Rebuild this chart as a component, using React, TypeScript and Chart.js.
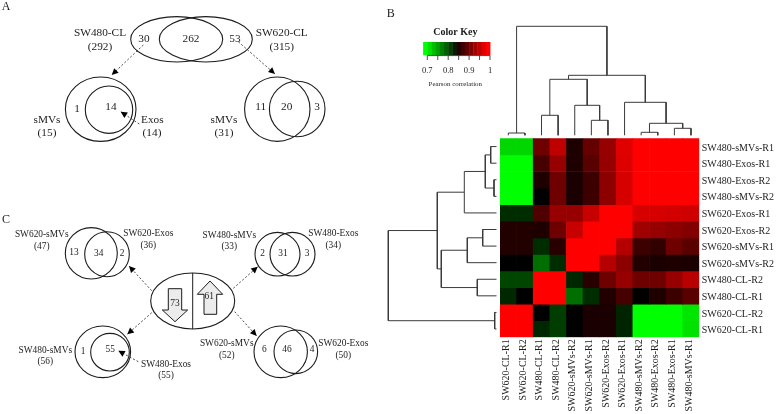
import React, { useEffect, useRef } from "react";
import { Chart, registerables } from "chart.js";

Chart.register(...registerables);

// ---------- data ----------
const columnLabels = ["SW620-CL-R1","SW620-CL-R2","SW480-CL-R1","SW480-CL-R2","SW620-sMVs-R2","SW620-sMVs-R1","SW620-Exos-R2","SW620-Exos-R1","SW480-sMVs-R2","SW480-Exos-R2","SW480-Exos-R1","SW480-sMVs-R1"];
const rowLabels = ["SW480-sMVs-R1","SW480-Exos-R1","SW480-Exos-R2","SW480-sMVs-R2","SW620-Exos-R1","SW620-Exos-R2","SW620-sMVs-R1","SW620-sMVs-R2","SW480-CL-R2","SW480-CL-R1","SW620-CL-R2","SW620-CL-R1"];
const row01 = [.705,.705,.909,.959,.859,.903,.934,.981,1,1,1,1];
const row02 = [.68,.68,.884,.934,.859,.896,.934,.978,1,1,1,1];
const row03 = [.68,.68,.859,.909,.856,.878,.928,.975,1,1,1,1];
const row04 = [.68,.68,.84,.909,.856,.878,.928,.975,1,1,1,1];
const row05 = [.812,.812,.89,.934,.934,.965,1,1,.975,.975,.972,.969];
const row06 = [.862,.862,.859,.909,.965,1,1,1,.94,.934,.928,.922];
const row07 = [.862,.862,.812,.865,1,1,1,.953,.878,.871,.909,.896];
const row08 = [.84,.84,.771,.812,1,1,.953,.928,.862,.856,.859,.856];
const row09 = [.796,.796,1,1,.815,.865,.909,.934,.909,.909,.934,.956];
const row10 = [.815,.84,1,1,.771,.812,.862,.884,.84,.859,.878,.896];
const row11 = [1,1,.84,.802,.84,.856,.856,.818,.68,.68,.68,.696];
const row12 = [1,1,.815,.802,.84,.856,.856,.818,.68,.68,.68,.699];
const matrix = [row01,row02,row03,row04,row05,row06,row07,row08,row09,row10,row11,row12];

// Dendrogram merges: [child, child, height]. child >= 0 is a leaf, child < 0 is merge ~child.
const topMerges: number[][] = [[0,1,5.3],[2,3,23],[5,6,18],[4,~2,33],[~1,~3,59],[8,9,6],[10,11,10],[~5,~6,15],[7,~7,36],[~4,~8,63],[~0,~9,112]];
const leftMerges: number[][] = [[0,1,9.3],[2,3,6],[~0,~1,14.7],[4,~2,35.7],[5,6,17.3],[~4,7,32.7],[8,9,22.7],[~5,~6,58.7],[~3,~7,62.7],[10,11,5.3],[~8,~9,111.7]];

const keyTicks = [0.7,0.75,0.8,0.85,0.9,0.95,1];
const keyTickLabels = ["0.7","0.8","0.9","1"];
const KEY_MIN = 0.68, KEY_MAX = 1, KEY_MID = 0.84, KEY_BINS = 16;

// ---------- layout ----------
const HEAT = { l: 500, r: 699.3, t: 138.3, b: 337.3 };
const SERIF = '"Liberation Serif", serif';
const INK = "#1c1c1c";

type E = [number, number, number, number];
const ellipses: E[] = [
  [176.7,39.3,46,22.7],[205.8,39.3,46.5,22.7],
  [100.7,109.2,35.3,32.2],[109,109.7,23.7,23.7],
  [277.3,109.2,32.7,32.2],[297.2,109,27.8,27.7],
  [91.3,253.3,26,25.7],[107,254.2,22.3,22.5],
  [277.5,254.2,22.5,21.8],[292.5,254.2,22.5,21.8],
  [192.7,301,42,28],
  [102.8,351.8,27.8,25.8],[110,352.2,19.3,18.8],
  [280.7,351.8,26.7,25.8],[295.8,351.8,21.8,21.8],
];
const arrows: number[][] = [
  [143.3,45,111.7,75],[238.3,41.7,275,74],[139.3,124,120.7,111.7],
  [151.7,290.7,129,266],[233.3,288.3,257.7,266.7],[151.7,312.7,127.3,334.3],[234.7,311.7,256.7,336],[138.3,361.7,118.3,350.7],
];
const blockArrows: number[][][] = [
  [[168.3,288.7],[181.7,288.7],[181.7,310],[187.7,310],[175,321.7],[162.3,310],[168.3,310]],
  [[210,281],[222.7,294.3],[216.7,294.3],[216.7,314.3],[204,314.3],[204,294.3],[197.3,294.3]],
];
type T = [string, number, number];
const panelLetters: T[] = [["A",6,7],["B",390.7,14],["C",6,220]];
const panelAText: T[] = [
  ["SW480-CL",100,33],["(292)",100,46.7],["SW620-CL",281.7,33],["(315)",281.7,46.7],
  ["30",144,39],["262",191,39],["53",235,39],
  ["1",77,109],["14",111,107],["Exos",152.3,119.7],["(14)",152,132.7],["sMVs",47,120],["(15)",47,132.7],
  ["11",260.7,107],["20",286.7,107],["3",317,107],["sMVs",224,120],["(31)",224,132.7],
];
const panelCText: T[] = [
  ["SW620-sMVs",41.7,235],["(47)",41.7,246.3],["SW620-Exos",148.3,234],["(36)",148.3,245.3],
  ["13",74,252.7],["34",98.7,253.7],["2",122,253.7],
  ["SW480-sMVs",229.3,235.3],["(33)",229.3,246.3],["SW480-Exos",333.3,234],["(34)",333.3,245.3],
  ["2",262.7,254],["31",283,254],["3",307,254],
  ["SW480-sMVs",45.3,350.7],["(56)",45.3,362],["1",83,351.3],["55",110.3,349.7],
  ["SW480-Exos",166,365],["(55)",166,376],
  ["SW620-sMVs",226.7,344],["(52)",226.7,355.7],["SW620-Exos",343.3,344],["(50)",343.3,355.7],
  ["6",264.3,350],["46",287,350],["4",312,350],
  ["73",175,304],["61",209.3,297],
];

function heatColor(v: number) {
  if (v <= KEY_MID) {
    const g = Math.round(((KEY_MID - v) / (KEY_MID - KEY_MIN)) * 255);
    return `rgb(0,${Math.min(255, g)},0)`;
  }
  const r = Math.round(((v - KEY_MID) / (KEY_MAX - KEY_MID)) * 255);
  return `rgb(${Math.min(255, r)},0,0)`;
}

function dendroSegments(merges: number[][], leafPos: (i: number) => number, base: number) {
  const centers: number[] = [];
  const pos = (c: number) => (c >= 0 ? leafPos(c) : centers[~c]);
  const hgt = (c: number) => (c >= 0 ? base : merges[~c][2]);
  return merges.map((m, i) => {
    const a = pos(m[0]), b = pos(m[1]);
    centers[i] = (a + b) / 2;
    return [[a, hgt(m[0])], [a, m[2]], [b, m[2]], [b, hgt(m[1])]];
  });
}

const annotationPlugin = {
  id: "figureAnnotations",
  afterDatasetsDraw(chart: any) {
    const ctx: CanvasRenderingContext2D = chart.ctx;
    const X = (v: number) => chart.scales.x.getPixelForValue(v);
    const Y = (v: number) => chart.scales.y.getPixelForValue(v);
    ctx.save();
    ctx.strokeStyle = INK;
    ctx.fillStyle = INK;

    // block arrows
    blockArrows.forEach((poly) => {
      ctx.beginPath();
      poly.forEach((p, i) => (i ? ctx.lineTo(X(p[0]), Y(p[1])) : ctx.moveTo(X(p[0]), Y(p[1]))));
      ctx.closePath();
      ctx.fillStyle = "#ececec";
      ctx.fill();
      ctx.lineWidth = 1;
      ctx.stroke();
    });

    // venn outlines
    ctx.lineWidth = 1.1;
    ellipses.forEach((e) => {
      ctx.beginPath();
      ctx.ellipse(X(e[0]), Y(e[1]), e[2], e[3], 0, 0, Math.PI * 2);
      ctx.stroke();
    });
    ctx.beginPath();
    ctx.moveTo(X(192.7), Y(273));
    ctx.lineTo(X(192.7), Y(329));
    ctx.lineWidth = 1;
    ctx.stroke();

    // dashed arrows
    arrows.forEach((a) => {
      const [x0, y0, x1, y1] = a;
      const ang = Math.atan2(y1 - y0, x1 - x0);
      ctx.beginPath();
      ctx.setLineDash([2, 2]);
      ctx.lineWidth = 0.8;
      ctx.moveTo(X(x0), Y(y0));
      ctx.lineTo(X(x1), Y(y1));
      ctx.stroke();
      ctx.setLineDash([]);
      const L = 6.5, W = 3.2;
      const bx = x1 - L * Math.cos(ang), by = y1 - L * Math.sin(ang);
      ctx.beginPath();
      ctx.moveTo(X(x1), Y(y1));
      ctx.lineTo(X(bx - W * Math.sin(ang)), Y(by + W * Math.cos(ang)));
      ctx.lineTo(X(bx + W * Math.sin(ang)), Y(by - W * Math.cos(ang)));
      ctx.closePath();
      ctx.fillStyle = "#000";
      ctx.fill();
    });

    // text
    ctx.fillStyle = INK;
    ctx.textAlign = "center";
    ctx.textBaseline = "middle";
    const put = (list: T[], font: string) => {
      ctx.font = font;
      list.forEach((t) => ctx.fillText(t[0], X(t[1]), Y(t[2])));
    };
    put(panelLetters, `12px ${SERIF}`);
    put(panelAText, `11.3px ${SERIF}`);
    put(panelCText, `9.4px ${SERIF}`);

    // colour key
    const kx = (v: number) => 490 - ((1 - v) / 0.05) * 10.45;
    for (let i = 0; i < KEY_BINS; i++) {
      const a = KEY_MIN + ((KEY_MAX - KEY_MIN) * i) / KEY_BINS;
      const b = KEY_MIN + ((KEY_MAX - KEY_MIN) * (i + 1)) / KEY_BINS;
      ctx.fillStyle = heatColor(i < KEY_BINS / 2 ? a : b);
      ctx.fillRect(X(kx(a)), Y(42), X(kx(b)) - X(kx(a)) + 0.4, Y(55.3) - Y(42));
    }
    ctx.strokeStyle = "#222";
    ctx.lineWidth = 0.8;
    ctx.beginPath();
    ctx.moveTo(X(kx(0.7)), Y(55.6));
    ctx.lineTo(X(kx(1)), Y(55.6));
    keyTicks.forEach((v) => {
      ctx.moveTo(X(kx(v)), Y(55.6));
      ctx.lineTo(X(kx(v)), Y(60));
    });
    ctx.stroke();
    ctx.fillStyle = INK;
    ctx.font = `8.5px ${SERIF}`;
    keyTickLabels.forEach((s) => ctx.fillText(s, X(kx(parseFloat(s))), Y(71)));
    ctx.font = `bold 10px ${SERIF}`;
    ctx.fillText("Color Key", X(455.3), Y(32.7));
    ctx.font = `6.9px ${SERIF}`;
    ctx.fillText("Pearson correlation", X(455.3), Y(84.3));
    ctx.restore();
  },
};

export default function App() {
  const heatRef = useRef<HTMLCanvasElement>(null);
  const annRef = useRef<HTMLCanvasElement>(null);

  useEffect(() => {
    const heat = new Chart(heatRef.current!, {
      type: "bar",
      data: {
        labels: columnLabels,
        datasets: matrix.map((row, r) => ({
          label: rowLabels[r],
          data: row.map(() => [r, r + 1]) as any,
          backgroundColor: row.map(heatColor),
          borderWidth: 0,
          barPercentage: 1,
          categoryPercentage: 1,
          grouped: false,
        })),
      },
      options: {
        responsive: false,
        animation: false,
        layout: { padding: { left: HEAT.l, top: HEAT.t, right: 0, bottom: 0 } },
        plugins: { legend: { display: false }, tooltip: { enabled: false } },
        scales: {
          x: {
            type: "category",
            grid: { display: false, drawTicks: false },
            border: { display: false },
            ticks: {
              autoSkip: false, minRotation: 90, maxRotation: 90, padding: 2, labelOffset: -2,
              color: INK, font: { family: SERIF, size: 10 },
            },
            afterFit: (s: any) => { s.height = 414 - HEAT.b; },
          },
          y: {
            type: "linear", position: "right", reverse: true, min: 0, max: 12,
            grid: { display: false, drawTicks: false },
            border: { display: false },
            afterBuildTicks: (s: any) => { s.ticks = rowLabels.map((_, i) => ({ value: i + 0.5 })); },
            ticks: {
              autoSkip: false, padding: 2.5, labelOffset: 1.5, color: INK, font: { family: SERIF, size: 10 },
              callback: (v: any) => rowLabels[Math.round(Number(v) - 0.5)],
            },
            afterFit: (s: any) => { s.width = 777 - HEAT.r; },
          },
        },
      } as any,
    });

    const cellW = (HEAT.r - HEAT.l) / columnLabels.length;
    const cellH = (HEAT.b - HEAT.t) / rowLabels.length;
    const topSegs = dendroSegments(topMerges, (i) => HEAT.l + cellW * (i + 0.5), 3)
      .map((seg) => seg.map(([x, h]) => ({ x, y: HEAT.t - h })));
    const leftSegs = dendroSegments(leftMerges, (i) => HEAT.t + cellH * (i + 0.5), 3.5)
      .map((seg) => seg.map(([y, h]) => ({ x: HEAT.l - h, y })));

    const ann = new Chart(annRef.current!, {
      type: "scatter",
      data: {
        datasets: [...topSegs, ...leftSegs].map((points, i) => ({
          label: `merge ${i}`,
          data: points,
          showLine: true,
          borderColor: "#3a3a3a",
          borderWidth: 1,
          pointRadius: 0,
          tension: 0,
        })),
      },
      options: {
        responsive: false,
        animation: false,
        layout: { padding: 0 },
        plugins: { legend: { display: false }, tooltip: { enabled: false } },
        scales: {
          x: { type: "linear", min: 0, max: 777, display: false },
          y: { type: "linear", min: 0, max: 414, reverse: true, display: false },
        },
      } as any,
      plugins: [annotationPlugin],
    });

    return () => {
      heat.destroy();
      ann.destroy();
    };
  }, []);

  const style: React.CSSProperties = { position: "absolute", left: 0, top: 0, display: "block" };
  return (
    <div style={{ position: "absolute", left: 0, top: 0, width: 777, height: 414, background: "#fff", overflow: "hidden" }}>
      <canvas ref={heatRef} width={777} height={414} style={style} />
      <canvas ref={annRef} width={777} height={414} style={style} />
    </div>
  );
}
